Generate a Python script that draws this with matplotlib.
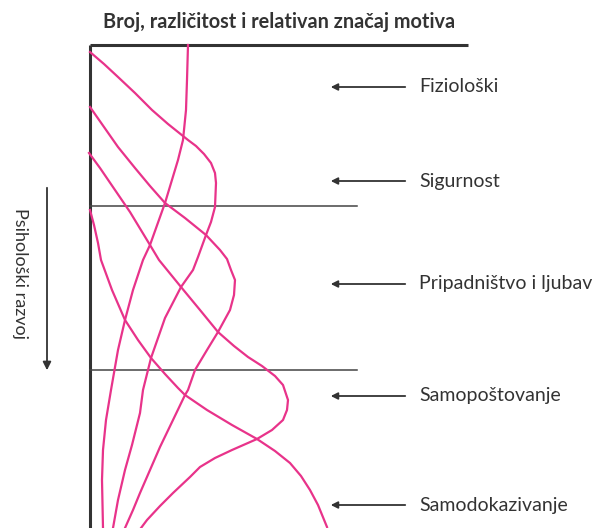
import matplotlib
matplotlib.use("Agg")
from matplotlib import pyplot as plt

# curve points: x = strength of the motive, y = depth of development
# (origin at the top-left corner of the frame, y grows downwards)
fizioloski_x = [98, 97, 96, 93, 88, 75, 60, 53, 43, 35, 28, 21, 16, 13, 12, 13]
fizioloski_y = [0, 35, 65, 95, 115, 158, 200, 215, 245, 275, 305, 345, 375, 405, 435, 483]

sigurnost_x = [0, 14, 28, 45, 62, 78, 98, 106, 114, 121, 125, 126, 125, 121, 116, 108, 103, 91, 75, 61, 53, 50, 42, 35, 28, 23]
sigurnost_y = [7, 19, 32, 48, 65, 79, 95, 101, 109, 118, 128, 138, 162, 177, 190, 212, 225, 242, 273, 313, 345, 368, 400, 425, 455, 483]

ljubav_x = [0, 14, 28, 45, 60, 75, 95, 116, 130, 137, 141, 145, 144, 140, 128, 117, 105, 98, 95, 83, 70, 60, 50, 43, 35]
ljubav_y = [62, 82, 102, 123, 141, 158, 173, 190, 205, 214, 225, 235, 250, 265, 287, 305, 325, 345, 350, 375, 402, 425, 448, 465, 483]

postovanje_x = [-1, 10, 25, 40, 60, 69, 91, 110, 128, 144, 158, 172, 185, 193, 198, 197, 193, 182, 167,
                142, 125, 110, 100, 83, 70, 57, 51]
postovanje_y = [108, 123, 145, 167, 200, 215, 242, 265, 287, 301, 312, 321, 331, 340, 355, 365, 375, 385, 394,
                405, 413, 422, 432, 448, 461, 475, 483]

samodokaz_x = [0, 4, 8, 11, 22, 35, 48, 61, 75, 88, 95, 117, 142, 167, 185, 200, 211, 220, 228, 237]
samodokaz_y = [165, 180, 198, 215, 245, 275, 295, 313, 329, 343, 350, 365, 380, 394, 406, 418, 431, 445, 460, 482]

motive_labels = ["Fiziološki", "Sigurnost", "Pripadništvo i ljubav", "Samopoštovanje", "Samodokazivanje"]
label_y = [42, 136, 239, 351, 460]
separator_y = [161, 325]

pink = "#E8338A"
dark = "#333333"
font = ["Lato", "DejaVu Sans"]

fig = plt.figure(figsize=(6.01, 5.28), dpi=100)
ax = fig.add_axes([0, 0, 1, 1])
ax.set_xlim(-90, 511)
ax.set_ylim(483, -45)
ax.axis("off")

curves = [
    (fizioloski_x, fizioloski_y),
    (sigurnost_x, sigurnost_y),
    (ljubav_x, ljubav_y),
    (postovanje_x, postovanje_y),
    (samodokaz_x, samodokaz_y),
]
for cx, cy in curves:
    ax.plot(cx, cy, color=pink, lw=1.6, solid_joinstyle="round", zorder=3)

# frame: vertical axis and top line
ax.plot([0, 0], [0, 483], color=dark, lw=2.2, zorder=2, solid_capstyle="butt")
ax.plot([0, 378], [0, 0], color=dark, lw=2.2, zorder=2, solid_capstyle="butt")
for sy in separator_y:
    ax.plot([0, 267], [sy, sy], color="#444444", lw=1.1, zorder=2)

# labels with arrows
for lab, ly in zip(motive_labels, label_y):
    ax.annotate("", xy=(238, ly), xytext=(318, ly),
                arrowprops=dict(arrowstyle="-|>", color=dark, lw=1.3, mutation_scale=10))
    ax.text(329, ly, lab, fontsize=14, color=dark, va="center", ha="left", family=font)

ax.text(189, -23, "Broj, različitost i relativan značaj motiva", fontsize=14.3, fontweight="bold",
        color=dark, ha="center", va="center", family=font)

# development arrow on the left
ax.annotate("", xy=(-43, 328), xytext=(-43, 140),
            arrowprops=dict(arrowstyle="-|>", color=dark, lw=1.3, mutation_scale=12))
ax.text(-70, 228, "Psihološki razvoj", fontsize=13, color=dark, rotation=-90,
        ha="center", va="center", family=font)

fig.savefig("out.png", dpi=100)
